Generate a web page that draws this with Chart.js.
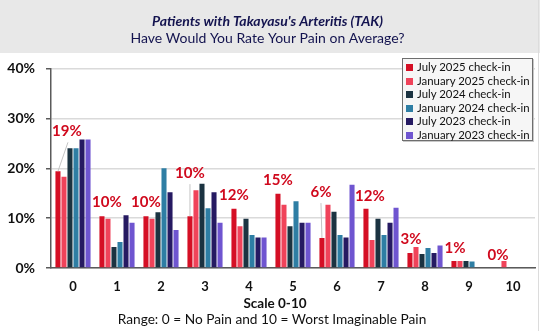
<!DOCTYPE html>
<html>
<head>
<meta charset="utf-8">
<script src="https://cdn.jsdelivr.net/npm/chart.js@4/dist/chart.umd.min.js"></script>
<style>
  html, body { margin: 0; padding: 0; background: #fff; }
  #wrap { position: relative; width: 540px; height: 331px; }
  #edge { position: absolute; left: 538px; top: 0; width: 1px; height: 331px; background: #dcdcdc; }
  #legend {
    position: absolute; left: 402px; top: 58px; width: 131px; height: 83px;
    border: 1px solid #6e6e6e; background: #f6f6f6; box-shadow: 1px 1px 0 #c8c8c8;
    font: 11.4px Lato, sans-serif; color: #111; padding-top: 1px; box-sizing: border-box;
  }
  #legend div { height: 13.5px; line-height: 13.5px; white-space: nowrap; padding-left: 3px; }
  #legend span { display: inline-block; width: 7px; height: 7px; margin-right: 4px; vertical-align: 0px; }
</style>
</head>
<body>
<div id="wrap">
  <canvas id="grafico" width="540" height="331"></canvas>
  <div id="legend"></div>
  <div id="edge"></div>
</div>
<script>
  var categorias = ['0', '1', '2', '3', '4', '5', '6', '7', '8', '9', '10'];

  var jul2025 = [19.4, 10.4, 10.4, 10.4, 11.9, 14.9, 6.0, 11.9, 3.0, 1.4, 0];
  var jan2025 = [18.3, 9.9, 9.9, 15.6, 8.4, 12.7, 12.7, 5.6, 4.2, 1.4, 1.4];
  var jul2024 = [24.0, 4.2, 11.2, 16.9, 9.9, 8.4, 11.3, 9.9, 2.8, 1.4, 0];
  var jan2024 = [24.0, 5.2, 20.0, 12.0, 6.6, 13.4, 6.6, 6.6, 4.0, 1.3, 0];
  var jul2023 = [25.8, 10.6, 15.2, 15.2, 6.1, 9.1, 6.1, 9.1, 3.0, 0, 0];
  var jan2023 = [25.8, 9.1, 7.6, 9.1, 6.1, 9.1, 16.7, 12.1, 4.5, 0, 0];

  var yTicks = ['0%', '10%', '20%', '30%', '40%'];

  // fundo cinza do cabecalho e os textos abaixo do eixo x
  var cabecalho = {
    id: 'cabecalho',
    beforeDraw: function (chart) {
      var c = chart.ctx;
      c.save();
      c.fillStyle = '#e8e8e8';
      c.fillRect(0, 0, chart.width, 53);
      c.restore();
    },
    afterDraw: function (chart) {
      var c = chart.ctx;
      c.save();
      c.fillStyle = '#111';
      c.textAlign = 'center';
      c.textBaseline = 'middle';
      c.font = 'bold 13.5px Lato, sans-serif';
      c.fillText('Scale 0-10', 275, 304);
      c.font = '13.7px Lato, sans-serif';
      c.fillText('Range: 0 = No Pain and 10 = Worst Imaginable Pain', 272, 320);
      c.restore();
    }
  };

  // rotulos da serie July 2025, com linha guia quando o rotulo fica longe da barra
  var rotulos = {
    id: 'rotulos',
    afterDatasetsDraw: function (chart, args, opts) {
      var c = chart.ctx;
      var meta = chart.getDatasetMeta(0);
      c.save();
      meta.data.forEach(function (bar, i) {
        var v = chart.data.datasets[0].data[i];
        var x = bar.x + opts.dx[i];
        var y = bar.y - opts.lift[i];
        if (opts.lift[i] > 30) {
          c.strokeStyle = '#c4c4c4';
          c.lineWidth = 1;
          c.beginPath();
          c.moveTo(x + (opts.dx[i] > 3 ? 1 : 0), y + 11);
          c.lineTo(bar.x, bar.y);
          c.stroke();
        }
        c.fillStyle = '#d0091d';
        c.font = 'bold 15px Lato, sans-serif';
        c.textAlign = 'center';
        c.textBaseline = 'middle';
        c.fillText(Math.round(v) + '%', x, y);
      });
      c.restore();
    }
  };

  function serie(nome, valores, cor) {
    return {
      label: nome,
      data: valores,
      backgroundColor: cor,
      borderWidth: 0,
      categoryPercentage: 0.82,
      barPercentage: 0.84
    };
  }

  var ctx = document.getElementById('grafico').getContext('2d');
  var grafico = new Chart(ctx, {
    type: 'bar',
    data: {
      labels: categorias,
      datasets: [
        serie('July 2025 check-in', jul2025, '#d50f25'),
        serie('January 2025 check-in', jan2025, '#f0435a'),
        serie('July 2024 check-in', jul2024, '#1b3341'),
        serie('January 2024 check-in', jan2024, '#2e7ea4'),
        serie('July 2023 check-in', jul2023, '#261a62'),
        serie('January 2023 check-in', jan2023, '#6f55d0')
      ]
    },
    plugins: [cabecalho, rotulos],
    options: {
      responsive: false,
      animation: false,
      layout: { padding: { left: 0, right: 5, top: 0, bottom: 21 } },
      plugins: {
        legend: { display: false },
        tooltip: { enabled: false },
        title: {
          display: true,
          text: "Patients with Takayasu's Arteritis (TAK)",
          color: '#13134f',
          font: { family: 'Lato', size: 14, weight: 'bold', style: 'italic' },
          padding: { top: 13, bottom: 0 }
        },
        subtitle: {
          display: true,
          text: 'Have Would You Rate Your Pain on Average?',
          color: '#13134f',
          font: { family: 'Lato', size: 14 },
          padding: { top: 0, bottom: 22 }
        },
        rotulos: {
          dx: [9, 5, 0, 0, 0, 0, -1, 4, 1, 1, 0],
          lift: [40, 14, 14, 43, 14, 14, 46, 13, 14, 13, 13]
        }
      },
      scales: {
        x: {
          afterFit: function (scale) { scale.height = 42; },
          grid: { display: false, drawTicks: false },
          border: { color: '#5a5a5a', width: 1.5 },
          ticks: {
            color: '#111', padding: 11,
            font: { family: 'Lato', size: 13, weight: 'bold' }
          }
        },
        y: {
          min: 0, max: 40,
          afterFit: function (scale) { scale.width = 51; },
          grid: { color: '#dadada', lineWidth: 1.5, tickColor: '#5a5a5a', tickLength: 5 },
          border: { color: '#5a5a5a', width: 1.5 },
          ticks: {
            stepSize: 10, padding: 11, color: '#111',
            font: { family: 'Lato', size: 14, weight: 'bold' },
            callback: function (v) { return yTicks[v / 10]; }
          }
        }
      }
    }
  });

  // legenda em html a partir das series
  var leg = document.getElementById('legend');
  grafico.data.datasets.forEach(function (ds) {
    var linha = document.createElement('div');
    var q = document.createElement('span');
    q.style.background = ds.backgroundColor;
    linha.appendChild(q);
    linha.appendChild(document.createTextNode(ds.label));
    leg.appendChild(linha);
  });
</script>
</body>
</html>
